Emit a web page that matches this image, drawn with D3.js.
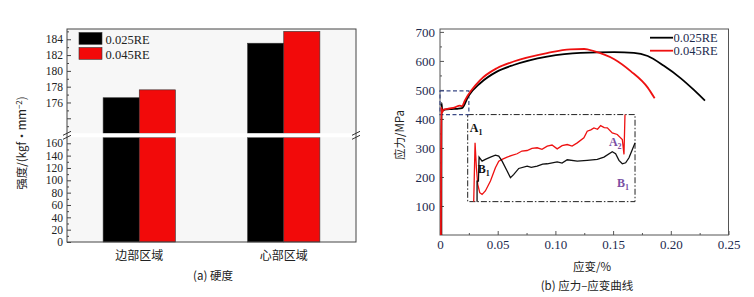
<!DOCTYPE html>
<html>
<head>
<meta charset="utf-8">
<script src="https://cdn.jsdelivr.net/npm/d3@7"></script>
<style>
	body { margin: 0; background: #fff; }
	svg { display: block; }
</style>
</head>
<body>
<div id="chart"></div>
<script>
// (a) 硬度
const regions = ["边部区域", "心部区域"];
const series = ["0.025RE", "0.045RE"];
const hardness025 = [176.6, 183.5];
const hardness045 = [177.6, 185.0];
const lowTicks = [0, 20, 40, 60, 80, 100, 120, 140, 160];
const highTicks = [176, 178, 180, 182, 184];

// (b) 应力-应变曲线
const strain025 = [0.0012, 0.0013, 0.002, 0.004, 0.010, 0.015, 0.019, 0.0246, 0.0348, 0.0493, 0.0638, 0.0928, 0.1217, 0.151, 0.168, 0.180, 0.194, 0.2087, 0.220, 0.2296];
const stress025 = [0, 455, 428, 432, 434, 435, 437, 479, 523, 563, 586, 615, 628, 630, 628, 617, 583, 540, 500, 463];
const strain045 = [0.0008, 0.0010, 0.0012, 0.0015, 0.003, 0.008, 0.013, 0.017, 0.019, 0.0217, 0.0348, 0.0493, 0.0638, 0.0928, 0.113, 0.125, 0.1333, 0.151, 0.1652, 0.180, 0.186];
const stress045 = [0, 300, 440, 420, 432, 436, 440, 446, 444, 465, 534, 575, 598, 627, 640, 641, 634, 606, 565, 508, 471];
const xTicks = [0, 0.05, 0.10, 0.15, 0.20, 0.25];
const yTicks = [100, 200, 300, 400, 500, 600, 700];

// 局部放大 (inset)
const insetStrain025 = [0.0014, 0.0014, 0.0016, 0.0017, 0.00215, 0.00264, 0.0034, 0.00414, 0.00464, 0.00514, 0.00589, 0.00639, 0.00689, 0.00763, 0.00888, 0.0095, 0.01038, 0.0112, 0.01188, 0.01337, 0.0141, 0.01487, 0.01637, 0.01786, 0.01936, 0.02036, 0.0216, 0.0221, 0.0226, 0.0231, 0.0236, 0.0241, 0.0246, 0.0250];
const insetStress025 = [410, 428.9, 428.9, 450.9, 447.2, 448.8, 450.9, 452.7, 451.8, 447.2, 438.1, 432.0, 435.0, 440.5, 442.7, 441.5, 442.7, 444.5, 444.8, 446.6, 445.5, 448.5, 447.2, 447.9, 448.8, 450.9, 455.8, 454.0, 447.9, 444.8, 445.7, 450.3, 457.9, 464.0];
const insetStrain045 = [0.0009, 0.0011, 0.0013, 0.0015, 0.0018, 0.00215, 0.00264, 0.0034, 0.00414, 0.00464, 0.00514, 0.00589, 0.0066, 0.00738, 0.0081, 0.00888, 0.0096, 0.01038, 0.0111, 0.01188, 0.0126, 0.01337, 0.0141, 0.01487, 0.0156, 0.01637, 0.01736, 0.01786, 0.0184, 0.01886, 0.0194, 0.01986, 0.0204, 0.02086, 0.0216, 0.02235, 0.0231, 0.02335, 0.0235];
const insetStress045 = [410, 464.0, 441.1, 425.9, 418.2, 416.7, 419.8, 428.9, 441.1, 447.2, 448.8, 450.9, 452.5, 454.0, 456.5, 457.0, 459.0, 459.5, 458.0, 461.0, 462.0, 458.5, 461.5, 462.5, 461.0, 464.0, 468.6, 474.7, 476.0, 477.8, 476.5, 479.9, 478.0, 477.8, 473.2, 471.7, 467.1, 453.4, 490];

const serif = "'Liberation Serif', 'Times New Roman', serif";
const cjk = "'Noto Sans CJK SC', sans-serif";
const navy = "#1d2a4e";

const svg = d3.select("#chart")
			  .append("svg")
			  .attr("width", 754)
			  .attr("height", 297);

svg.append("rect")
   .attr("width", 754)
   .attr("height", 297)
   .attr("fill", "#fff");

hardnessBars();
stressStrain();

function hardnessBars() {
	const left = 67, right = 356, top = 29, bottom = 242;
	const gapTop = 133.3, gapBottom = 137.3;
	const g = svg.append("g");

	const x = d3.scaleBand()
				.domain(regions)
				.range([left, right])
				.paddingInner(0.5)
				.paddingOuter(0.25);
	const xs = d3.scaleBand()
				 .domain(series)
				 .range([0, x.bandwidth()]);
	const yLow = d3.scaleLinear()
				   .domain([0, 169.7])
				   .range([bottom, gapBottom]);
	const yHigh = d3.scaleLinear()
					.domain([172.1, 185.3])
					.range([gapTop, top]);
	const color = d3.scaleOrdinal().domain(series).range(["#000000", "#f20a0a"]);

	g.append("rect")
	 .attr("x", left)
	 .attr("y", top)
	 .attr("width", right - left)
	 .attr("height", bottom - top)
	 .attr("fill", "#f7f7f7");

	const rows = [];
	regions.forEach((r, i) => {
		rows.push({region: r, s: series[0], v: hardness025[i]});
		rows.push({region: r, s: series[1], v: hardness045[i]});
	});

	// lower segment
	g.selectAll(".bar-low")
	 .data(rows)
	 .enter()
	 .append("rect")
	 .attr("x", d => x(d.region) + xs(d.s))
	 .attr("y", yLow(169.7))
	 .attr("width", xs.bandwidth())
	 .attr("height", yLow(0) - yLow(169.7))
	 .attr("fill", d => color(d.s))
	 .attr("stroke", "#333")
	 .attr("stroke-width", 0.6);

	// upper segment
	g.selectAll(".bar-high")
	 .data(rows)
	 .enter()
	 .append("rect")
	 .attr("x", d => x(d.region) + xs(d.s))
	 .attr("y", d => yHigh(d.v))
	 .attr("width", xs.bandwidth())
	 .attr("height", d => yHigh(172.1) - yHigh(d.v))
	 .attr("fill", d => color(d.s))
	 .attr("stroke", "#333")
	 .attr("stroke-width", 0.6);

	// break gap
	g.append("rect")
	 .attr("x", left)
	 .attr("y", gapTop)
	 .attr("width", right - left)
	 .attr("height", gapBottom - gapTop)
	 .attr("fill", "#fff");

	// axes
	const axisLow = g.append("g")
					 .attr("transform", `translate(${left},0)`)
					 .call(d3.axisLeft(yLow).tickValues(lowTicks).tickSize(-4).tickPadding(4));
	const axisLowMinor = g.append("g")
						  .attr("transform", `translate(${left},0)`)
						  .call(d3.axisLeft(yLow).tickValues(d3.range(10, 170, 20)).tickSize(-2).tickFormat(""));
	const axisHigh = g.append("g")
					  .attr("transform", `translate(${left},0)`)
					  .call(d3.axisLeft(yHigh).tickValues(highTicks.concat([174])).tickSize(-4).tickPadding(4)
							  .tickFormat(d => d >= 176 ? d : ""));
	const axisHighMinor = g.append("g")
						   .attr("transform", `translate(${left},0)`)
						   .call(d3.axisLeft(yHigh).tickValues([173, 175, 177, 179, 181, 183, 185]).tickSize(-2).tickFormat(""));
	[axisLow, axisLowMinor, axisHigh, axisHighMinor].forEach(a => {
		a.select(".domain").remove();
		a.selectAll("line").attr("stroke", "#444");
		a.selectAll("text")
		 .style("font-family", serif)
		 .style("font-size", "11.5px")
		 .attr("fill", "#222");
	});

	// frame
	g.append("rect")
	 .attr("x", left)
	 .attr("y", top)
	 .attr("width", right - left)
	 .attr("height", bottom - top)
	 .attr("fill", "none")
	 .attr("stroke", "#444")
	 .attr("stroke-width", 1);

	// break marks on both spines
	[left, right].forEach(sx => {
		[gapTop, gapBottom].forEach(sy => {
			g.append("line")
			 .attr("x1", sx - 4)
			 .attr("y1", sy + 2)
			 .attr("x2", sx + 4)
			 .attr("y2", sy - 2)
			 .attr("stroke", "#333")
			 .attr("stroke-width", 1);
		});
	});

	// legend
	series.forEach((s, i) => {
		g.append("rect")
		 .attr("x", 79)
		 .attr("y", 32.5 + i * 15)
		 .attr("width", 23)
		 .attr("height", 11.8)
		 .attr("fill", color(s))
		 .attr("stroke", "#333")
		 .attr("stroke-width", 0.6);
		g.append("text")
		 .attr("x", 105.5)
		 .attr("y", 44 + i * 15)
		 .style("font-family", serif)
		 .style("font-size", "12.5px")
		 .attr("fill", "#222")
		 .text(s);
	});

	// category labels
	g.selectAll(".cat")
	 .data(regions)
	 .enter()
	 .append("text")
	 .attr("x", d => x(d) + x.bandwidth() / 2)
	 .attr("y", 260)
	 .attr("text-anchor", "middle")
	 .style("font-family", cjk)
	 .style("font-size", "12px")
	 .attr("fill", "#222")
	 .text(d => d);

	// y label
	const yl = g.append("text")
				.attr("transform", "translate(26,143) rotate(-90)")
				.attr("text-anchor", "middle")
				.style("font-family", cjk)
				.style("font-size", "11.5px")
				.attr("fill", "#222");
	yl.append("tspan").text("强度/(kgf·mm");
	yl.append("tspan").attr("dy", -4).style("font-size", "8px").text("−2");
	yl.append("tspan").attr("dy", 4).text(")");

	g.append("text")
	 .attr("x", 213)
	 .attr("y", 280)
	 .attr("text-anchor", "middle")
	 .style("font-family", cjk)
	 .style("font-size", "11.5px")
	 .attr("fill", "#222")
	 .text("(a) 硬度");
}

function stressStrain() {
	const left = 440, right = 728.5, top = 29, bottom = 235;
	const g = svg.append("g");

	const x = d3.scaleLinear()
				.domain([0, 0.25])
				.range([left, right]);
	const y = d3.scaleLinear()
				.domain([0, 710])
				.range([bottom, top]);

	const axX = g.append("g")
				 .attr("transform", `translate(0,${bottom})`)
				 .call(d3.axisBottom(x).tickValues(xTicks).tickSize(-4).tickPadding(5)
						 .tickFormat(d => d === 0 ? "0" : d3.format(".2f")(d)));
	const axXMinor = g.append("g")
					  .attr("transform", `translate(0,${bottom})`)
					  .call(d3.axisBottom(x).tickValues([0.025, 0.075, 0.125, 0.175, 0.225]).tickSize(-2).tickFormat(""));
	const axY = g.append("g")
				 .attr("transform", `translate(${left},0)`)
				 .call(d3.axisLeft(y).tickValues(yTicks).tickSize(-4).tickPadding(5));
	const axYMinor = g.append("g")
					  .attr("transform", `translate(${left},0)`)
					  .call(d3.axisLeft(y).tickValues([50, 150, 250, 350, 450, 550, 650]).tickSize(-2).tickFormat(""));
	[axX, axXMinor, axY, axYMinor].forEach(a => {
		a.select(".domain").remove();
		a.selectAll("line").attr("stroke", "#555");
		a.selectAll("text")
		 .style("font-family", serif)
		 .style("font-size", "13px")
		 .attr("fill", navy);
	});

	g.append("rect")
	 .attr("x", left)
	 .attr("y", top)
	 .attr("width", right - left)
	 .attr("height", bottom - top)
	 .attr("fill", "none")
	 .attr("stroke", "#555")
	 .attr("stroke-width", 1);

	// inset frame (dash-dot) and zoom box (blue dashed)
	g.append("rect")
	 .attr("x", x(0.024))
	 .attr("y", y(415))
	 .attr("width", x(0.169) - x(0.024))
	 .attr("height", y(115) - y(415))
	 .attr("fill", "none")
	 .attr("stroke", "#222")
	 .attr("stroke-width", 1)
	 .attr("stroke-dasharray", "6,2,1.5,2");

	g.append("rect")
	 .attr("x", x(0))
	 .attr("y", y(497))
	 .attr("width", x(0.025) - x(0))
	 .attr("height", y(415) - y(497))
	 .attr("fill", "none")
	 .attr("stroke", "#3b4a86")
	 .attr("stroke-width", 1.2)
	 .attr("stroke-dasharray", "4,2.5");

	const line = d3.line()
				   .curve(d3.curveMonotoneX)
				   .x(d => x(d[0]))
				   .y(d => y(d[1]));

	g.append("path")
	 .datum(d3.zip(strain025, stress025))
	 .attr("d", line)
	 .attr("fill", "none")
	 .attr("stroke", "#000")
	 .attr("stroke-width", 1.8);

	g.append("path")
	 .datum(d3.zip(strain045, stress045))
	 .attr("d", line)
	 .attr("fill", "none")
	 .attr("stroke", "#ee1111")
	 .attr("stroke-width", 1.8);

	// inset curves
	const xi = d3.scaleLinear()
				 .domain([0, 0.025])
				 .range([x(0.024), x(0.169)]);
	const yi = d3.scaleLinear()
				 .domain([410, 490])
				 .range([y(115), y(415)]);
	const lineIn = d3.line()
					 .x(d => xi(d[0]))
					 .y(d => yi(d[1]));

	g.append("path")
	 .datum(d3.zip(insetStrain045, insetStress045))
	 .attr("d", lineIn)
	 .attr("fill", "none")
	 .attr("stroke", "#ee1111")
	 .attr("stroke-width", 1.3);

	g.append("path")
	 .datum(d3.zip(insetStrain025, insetStress025))
	 .attr("d", lineIn)
	 .attr("fill", "none")
	 .attr("stroke", "#111")
	 .attr("stroke-width", 1.3);

	// inset annotations
	const notes = [
		{t: "A", s: "1", px: 0.0003, v: 474, c: "#111"},
		{t: "B", s: "1", px: 0.0015, v: 436, c: "#111"},
		{t: "A", s: "2", px: 0.0211, v: 461, c: "#7a4fa3"},
		{t: "B", s: "1", px: 0.0223, v: 423, c: "#7a4fa3"}
	];
	notes.forEach(n => {
		const t = g.append("text")
				   .attr("x", xi(n.px))
				   .attr("y", yi(n.v))
				   .style("font-family", serif)
				   .style("font-size", "12px")
				   .style("font-weight", "bold")
				   .attr("fill", n.c);
		t.append("tspan").text(n.t);
		t.append("tspan").attr("dy", 3).style("font-size", "8px").text(n.s);
	});

	// legend
	const legend = [{s: series[0], c: "#000"}, {s: series[1], c: "#ee1111"}];
	legend.forEach((d, i) => {
		g.append("line")
		 .attr("x1", 650)
		 .attr("x2", 673)
		 .attr("y1", 37.7 + i * 13)
		 .attr("y2", 37.7 + i * 13)
		 .attr("stroke", d.c)
		 .attr("stroke-width", 1.8);
		g.append("text")
		 .attr("x", 673.5)
		 .attr("y", 42 + i * 13)
		 .style("font-family", serif)
		 .style("font-size", "12.5px")
		 .attr("fill", navy)
		 .text(d.s);
	});

	g.append("text")
	 .attr("transform", "translate(404,135) rotate(-90)")
	 .attr("text-anchor", "middle")
	 .style("font-family", cjk)
	 .style("font-size", "11.5px")
	 .attr("fill", "#222")
	 .text("应力/MPa");

	g.append("text")
	 .attr("x", 592)
	 .attr("y", 271)
	 .attr("text-anchor", "middle")
	 .style("font-family", cjk)
	 .style("font-size", "11.5px")
	 .attr("fill", "#222")
	 .text("应变/%");

	g.append("text")
	 .attr("x", 587)
	 .attr("y", 290)
	 .attr("text-anchor", "middle")
	 .style("font-family", cjk)
	 .style("font-size", "11.5px")
	 .attr("fill", "#222")
	 .text("(b) 应力–应变曲线");
}
</script>
</body>
</html>
